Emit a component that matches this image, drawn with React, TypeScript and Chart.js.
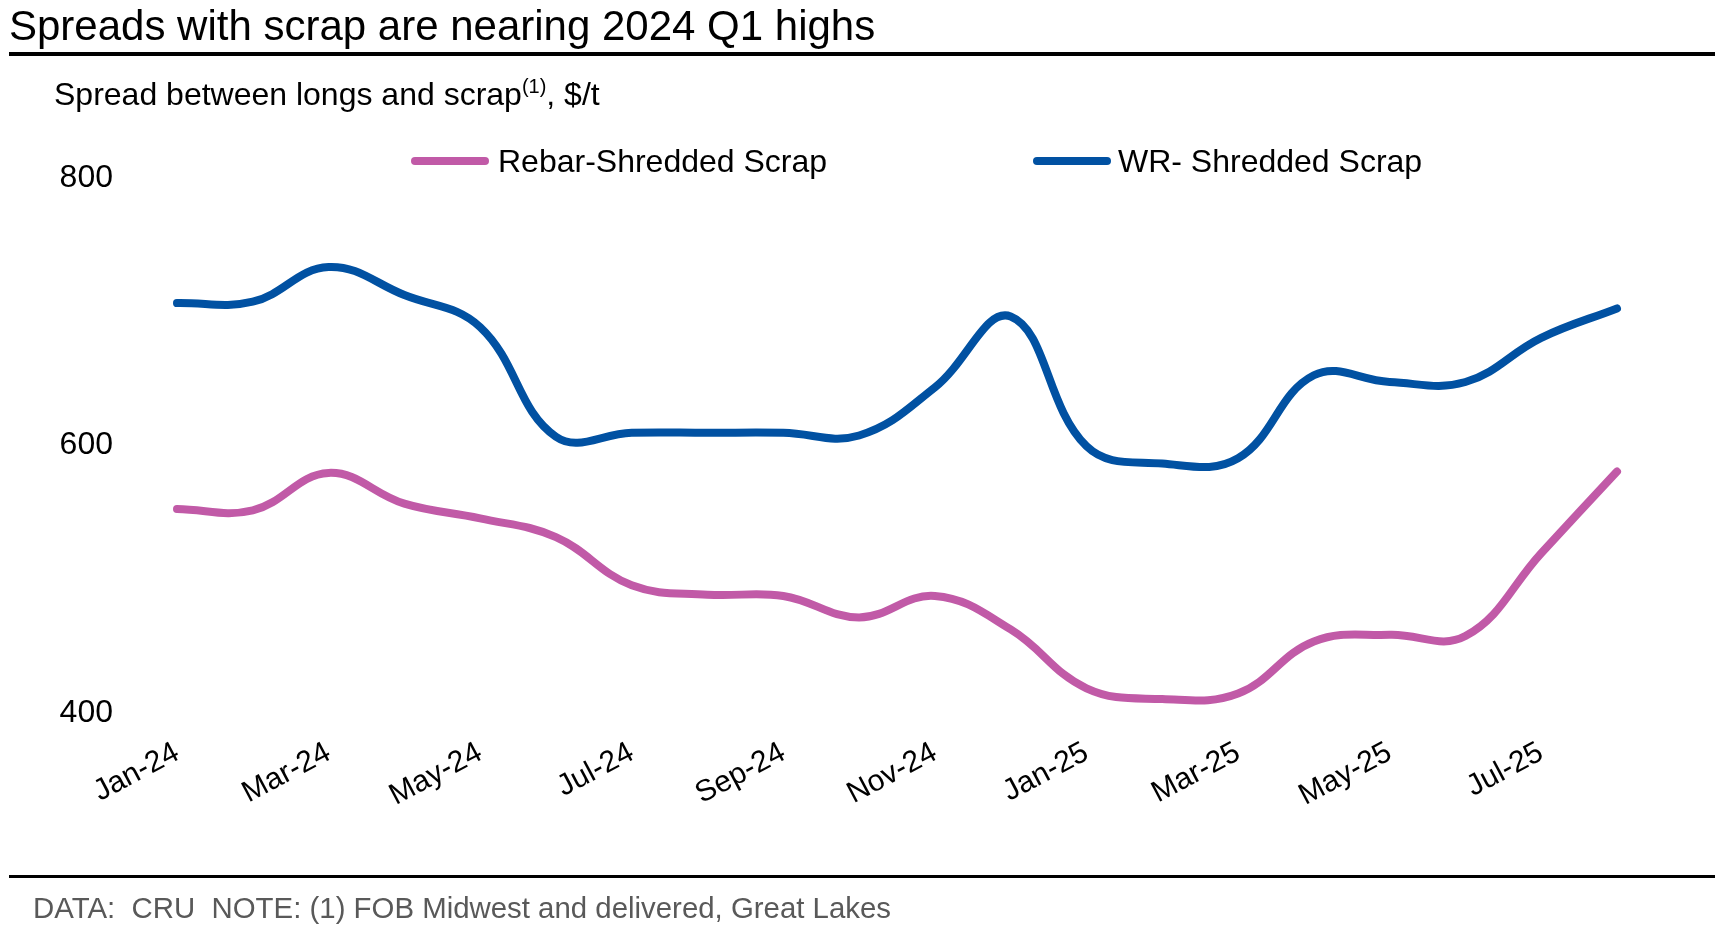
import React, { useEffect, useRef } from "react";
import { Chart, registerables } from "chart.js";

Chart.register(...registerables);

// ---- Data ----
const months = [
  "Jan-24", "Feb-24", "Mar-24", "Apr-24", "May-24", "Jun-24", "Jul-24", "Aug-24", "Sep-24", "Oct-24",
  "Nov-24", "Dec-24", "Jan-25", "Feb-25", "Mar-25", "Apr-25", "May-25", "Jun-25", "Jul-25", "Aug-25",
];
const xTickLabels = ["Jan-24", "Mar-24", "May-24", "Jul-24", "Sep-24", "Nov-24", "Jan-25", "Mar-25", "May-25", "Jul-25"];
const rebarShreddedScrap = [551, 550, 578, 555, 544, 530, 494, 487, 486, 470, 486, 461, 417, 409, 413, 452, 457, 456, 518, 579];
const wrShreddedScrap = [705, 706, 732, 711, 687, 605, 608, 608, 608, 606, 642, 695, 598, 585, 589, 651, 646, 646, 679, 701];
const yTicks = [400, 600, 800];

const seriesNames = ["Rebar-Shredded Scrap", "WR- Shredded Scrap"];
const PINK = "#C15AA7";
const BLUE = "#0151A2";
const FONT = "'Liberation Sans', Arial, Helvetica, sans-serif";

export default function App() {
  const canvasRef = useRef<HTMLCanvasElement | null>(null);

  useEffect(() => {
    const canvas = canvasRef.current;
    if (!canvas) return;
    const chart = new Chart(canvas, {
      type: "line",
      data: {
        labels: months,
        datasets: [
          {
            label: seriesNames[0],
            data: rebarShreddedScrap,
            borderColor: PINK,
            backgroundColor: PINK,
            borderWidth: 8,
            pointRadius: 0,
            tension: 0.4,
            borderCapStyle: "round",
            borderJoinStyle: "round",
            clip: false as any,
          },
          {
            label: seriesNames[1],
            data: wrShreddedScrap,
            borderColor: BLUE,
            backgroundColor: BLUE,
            borderWidth: 8,
            pointRadius: 0,
            tension: 0.4,
            borderCapStyle: "round",
            borderJoinStyle: "round",
            clip: false as any,
          },
        ],
      },
      options: {
        animation: false,
        responsive: false,
        maintainAspectRatio: false,
        devicePixelRatio: 1,
        layout: { padding: { left: 0, right: 98, top: 176, bottom: 0 } },
        plugins: {
          legend: { display: false },
          title: { display: false },
          tooltip: { enabled: false },
        },
        scales: {
          x: {
            type: "category",
            offset: false,
            grid: { display: false, drawTicks: false },
            border: { display: false },
            ticks: {
              autoSkip: false,
              minRotation: 28,
              maxRotation: 28,
              padding: 24,
              color: "#000",
              font: { family: FONT, size: 30 },
              callback: (_v: any, i: number) => (xTickLabels.includes(months[i]) ? months[i] : null),
            },
            afterFit: (s: any) => {
              s.height = 946 - 711;
              s.paddingLeft = 0;
              s.paddingRight = 0;
            },
          },
          y: {
            min: yTicks[0],
            max: yTicks[yTicks.length - 1],
            grid: { display: false, drawTicks: false },
            border: { display: false },
            afterBuildTicks: (s: any) => {
              s.ticks = yTicks.map((v) => ({ value: v }));
            },
            ticks: {
              padding: 64,
              labelOffset: 2,
              color: "#000",
              font: { family: FONT, size: 32 },
            },
            afterFit: (s: any) => {
              s.width = 177;
              s.paddingTop = 0;
              s.paddingBottom = 0;
            },
          },
        },
      },
    });
    return () => chart.destroy();
  }, []);

  const abs = (o: React.CSSProperties): React.CSSProperties => ({ position: "absolute", ...o });

  return (
    <div
      style={{
        position: "fixed",
        left: 0,
        top: 0,
        width: 1715,
        height: 946,
        background: "#fff",
        fontFamily: FONT,
        color: "#000",
        overflow: "hidden",
      }}
    >
      <canvas ref={canvasRef} width={1715} height={946} style={abs({ left: 0, top: 0, width: 1715, height: 946 })} />
      <div style={abs({ left: 9, top: 4.5, fontSize: 42, lineHeight: "42px", whiteSpace: "nowrap" })}>
        Spreads with scrap are nearing 2024 Q1 highs
      </div>
      <div style={abs({ left: 9, top: 52, width: 1706, height: 4, background: "#000" })} />
      <div style={abs({ left: 54, top: 78, fontSize: 32, lineHeight: "32px", whiteSpace: "nowrap" })}>
        Spread between longs and scrap
        <span style={{ fontSize: 20, position: "relative", top: -12 }}>(1)</span>, $/t
      </div>
      <div style={abs({ left: 411, top: 157, width: 78, height: 8, borderRadius: 4, background: PINK })} />
      <div style={abs({ left: 498, top: 145, fontSize: 32, lineHeight: "32px", whiteSpace: "nowrap" })}>
        {seriesNames[0]}
      </div>
      <div style={abs({ left: 1033, top: 157, width: 78, height: 8, borderRadius: 4, background: BLUE })} />
      <div style={abs({ left: 1118, top: 145, fontSize: 32, lineHeight: "32px", whiteSpace: "nowrap" })}>
        {seriesNames[1]}
      </div>
      <div style={abs({ left: 9, top: 875, width: 1706, height: 3, background: "#000" })} />
      <div style={abs({ left: 33, top: 893, fontSize: 29.4, lineHeight: "29.4px", color: "#595959", whiteSpace: "pre" })}>
        {"DATA:  CRU  NOTE: (1) FOB Midwest and delivered, Great Lakes"}
      </div>
    </div>
  );
}
